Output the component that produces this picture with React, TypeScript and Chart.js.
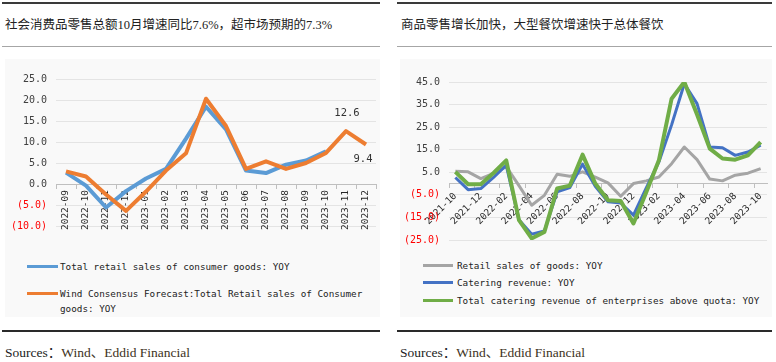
import React, { useEffect, useRef } from "react";
import { Chart, registerables } from "chart.js";

Chart.register(...registerables);

// ---------- Left chart data ----------
const leftCategories = [
  "2022-09", "2022-10", "2022-11", "2022-12", "2023-01", "2023-02", "2023-03", "2023-04",
  "2023-05", "2023-06", "2023-07", "2023-08", "2023-09", "2023-10", "2023-11", "2023-12",
];
const leftRetailYoy = [2.7, -0.4, -5.6, -1.7, 1.3, 3.6, 10.8, 18.4, 13.0, 3.2, 2.6, 4.6, 5.6, 7.8, null, null];
const leftConsensusYoy = [3.0, 1.8, -2.5, -6.4, -1.8, 3.2, 7.3, 20.3, 13.8, 3.6, 5.4, 3.6, 5.0, 7.4, 12.6, 9.4];
const leftSeriesNames = [
  "Total retail sales of consumer goods: YOY",
  "Wind Consensus Forecast:Total Retail sales of Consumer goods: YOY",
];
const leftYMin = -10;
const leftYMax = 25;
const leftYStep = 5;
const leftLabelIndexes = [14, 15];

// ---------- Right chart data ----------
const rightCategories = [
  "2021-10", "2021-11", "2021-12", "2022-01", "2022-02", "2022-03", "2022-04", "2022-05",
  "2022-06", "2022-07", "2022-08", "2022-09", "2022-10", "2022-11", "2022-12", "2023-01",
  "2023-02", "2023-03", "2023-04", "2023-05", "2023-06", "2023-07", "2023-08", "2023-09", "2023-10",
];
const rightGoodsYoy = [5.5, 5.2, 2.2, 4.5, 7.5, -0.9, -9.6, -5.2, 4.1, 3.2, 5.2, 2.9, 0.3, -5.6, 0.0, 1.2, 2.9, 8.8, 16.2, 10.6, 2.0, 1.2, 3.7, 4.6, 6.6];
const rightCateringYoy = [2.7, -2.7, -2.2, 2.7, 8.1, -16.0, -22.4, -21.0, -3.7, -1.8, 8.6, -1.2, -8.1, -8.6, -14.0, -2.0, 9.6, 26.0, 44.2, 35.4, 16.2, 15.9, 12.5, 14.0, 17.0];
const rightAboveQuotaYoy = [5.2, -0.3, -0.3, 4.7, 10.3, -16.2, -24.3, -21.4, -2.2, -0.9, 12.8, 0.0, -7.4, -7.7, -17.7, -4.0, 10.3, 37.6, 45.0, 30.6, 15.5, 11.1, 10.6, 12.5, 18.4];
const rightSeriesNames = [
  "Retail sales of goods: YOY",
  "Catering revenue: YOY",
  "Total catering revenue of enterprises above quota: YOY",
];
const rightYMin = -25;
const rightYMax = 45;
const rightYStep = 10;

// ---------- Styles ----------
const leftColors = ["#5B9BD5", "#ED7D31"];
const rightColors = ["#A5A5A5", "#4472C4", "#70AD47"];
const monoFont = "'DejaVu Sans Mono', monospace";
const serifFont = "'Liberation Serif', 'Noto Sans CJK SC', serif";

const fmtTick = (v: number) => (v < 0 ? `(${Math.abs(v).toFixed(1)})` : Number(v).toFixed(1));

function yAxis(min: number, max: number, step: number, width: number) {
  return {
    min,
    max,
    ticks: {
      stepSize: step,
      callback: (v: any) => fmtTick(Number(v)),
      color: (ctx: any) => (ctx.tick && ctx.tick.value < 0 ? "#FF0000" : "#404040"),
      font: { family: monoFont, size: 10 },
      padding: 9,
    },
    grid: { color: "#e4e4e4", drawTicks: false, lineWidth: 1 },
    border: { display: false },
    afterFit: (s: any) => {
      s.width = width;
    },
  };
}

const pointLabelPlugin = {
  id: "pointLabels",
  afterDatasetsDraw(chart: any) {
    const meta = chart.getDatasetMeta(1);
    const ds = chart.data.datasets[1];
    const ctx = chart.ctx;
    ctx.save();
    ctx.font = `10.5px ${monoFont}`;
    ctx.fillStyle = "#333333";
    ctx.textAlign = "center";
    ctx.textBaseline = "middle";
    leftLabelIndexes.forEach((idx, k) => {
      const el = meta.data[idx];
      if (!el) return;
      const dx = k === 0 ? 1 : -3;
      const dy = k === 0 ? -18 : 15;
      ctx.fillText(Number(ds.data[idx]).toFixed(1), el.x + dx, el.y + dy);
    });
    ctx.restore();
  },
};

function lineDs(label: string, data: any[], color: string, width: number, order: number) {
  return {
    label,
    data,
    borderColor: color,
    backgroundColor: color,
    borderWidth: width,
    pointRadius: 0,
    pointHoverRadius: 0,
    tension: 0,
    borderJoinStyle: "round" as const,
    fill: false,
    order,
  };
}

export default function App() {
  const leftRef = useRef<HTMLCanvasElement>(null);
  const rightRef = useRef<HTMLCanvasElement>(null);

  useEffect(() => {
    const left = new Chart(leftRef.current as HTMLCanvasElement, {
      type: "line",
      data: {
        labels: leftCategories,
        datasets: [
          lineDs(leftSeriesNames[0], leftRetailYoy, leftColors[0], 4, 2),
          lineDs(leftSeriesNames[1], leftConsensusYoy, leftColors[1], 4, 1),
        ],
      },
      options: {
        responsive: false,
        animation: false,
        layout: { padding: { top: 3, right: 9, bottom: 3, left: 0 } },
        plugins: { legend: { display: false }, tooltip: { enabled: false } },
        scales: {
          x: {
            type: "category",
            position: { y: 0 } as any,
            offset: true,
            grid: { drawOnChartArea: false, drawTicks: true, tickLength: 4, color: "#bfbfbf", offset: true },
            border: { display: true, color: "#bfbfbf" },
            ticks: {
              autoSkip: false,
              minRotation: 90,
              maxRotation: 90,
              padding: 2,
              color: "#262626",
              font: { family: monoFont, size: 9.5 },
            },
          },
          y: yAxis(leftYMin, leftYMax, leftYStep, 56) as any,
        },
      },
      plugins: [pointLabelPlugin],
    } as any);

    const right = new Chart(rightRef.current as HTMLCanvasElement, {
      type: "line",
      data: {
        labels: rightCategories,
        datasets: [
          lineDs(rightSeriesNames[0], rightGoodsYoy, rightColors[0], 3, 3),
          lineDs(rightSeriesNames[1], rightCateringYoy, rightColors[1], 3, 2),
          lineDs(rightSeriesNames[2], rightAboveQuotaYoy, rightColors[2], 4, 1),
        ],
      },
      options: {
        responsive: false,
        animation: false,
        layout: { padding: { top: 5, right: 9, bottom: 5, left: 0 } },
        plugins: { legend: { display: false }, tooltip: { enabled: false } },
        scales: {
          x: {
            type: "category",
            position: { y: 0 } as any,
            offset: true,
            grid: {
              drawOnChartArea: false,
              drawTicks: true,
              tickLength: 4,
              offset: true,
              color: (ctx: any) => (ctx.index % 2 === 0 ? "#bfbfbf" : "rgba(0,0,0,0)"),
            },
            border: { display: true, color: "#bfbfbf" },
            ticks: {
              autoSkip: false,
              minRotation: 45,
              maxRotation: 45,
              padding: 3,
              color: "#262626",
              font: { family: monoFont, size: 9.5 },
              callback: (_v: any, i: number) => (i % 2 === 0 ? rightCategories[i] : ""),
            },
          },
          y: yAxis(rightYMin, rightYMax, rightYStep, 59) as any,
        },
      },
    } as any);

    return () => {
      left.destroy();
      right.destroy();
    };
  }, []);

  const abs = (s: React.CSSProperties): React.CSSProperties => ({ position: "absolute", ...s });
  const legendText: React.CSSProperties = {
    fontFamily: monoFont,
    fontSize: 9.3,
    lineHeight: "15px",
    color: "#222",
    whiteSpace: "normal",
  };
  const titleStyle: React.CSSProperties = {
    fontFamily: serifFont,
    fontSize: 12.5,
    lineHeight: "14px",
    color: "#222",
    whiteSpace: "nowrap",
  };
  const sourceStyle: React.CSSProperties = {
    fontFamily: serifFont,
    fontSize: 13.5,
    lineHeight: "16px",
    color: "#222",
    whiteSpace: "nowrap",
  };

  const panel = (x0: number, x1: number) => (
    <>
      <div style={abs({ left: x0, top: 2, width: x1 - x0, height: 2, background: "#3a3a3a" })} />
      <div style={abs({ left: x0, top: 46, width: x1 - x0, height: 1, background: "#a6a6a6" })} />
      <div style={abs({ left: x0 + 3, top: 59, width: x1 - x0 - 3, height: 258, background: "#f9f9f9" })} />
      <div style={abs({ left: x0, top: 330, width: x1 - x0, height: 2, background: "#2a2a2a" })} />
    </>
  );

  return (
    <div
      style={{
        position: "fixed",
        left: 0,
        top: 0,
        width: 776,
        height: 362,
        background: "#ffffff",
        overflow: "hidden",
      }}
    >
      {panel(2, 380)}
      {panel(397, 772)}

      <div style={abs({ left: 5, top: 18, ...titleStyle })}>
        社会消费品零售总额10月增速同比7.6%，超市场预期的7.3%
      </div>
      <div style={abs({ left: 401, top: 18, ...titleStyle })}>
        商品零售增长加快，大型餐饮增速快于总体餐饮
      </div>

      <canvas
        ref={leftRef}
        width={385}
        height={177}
        style={abs({ left: 0, top: 64, width: 385, height: 177 })}
      />
      <canvas
        ref={rightRef}
        width={386}
        height={188}
        style={abs({ left: 390, top: 67, width: 386, height: 188 })}
      />

      {/* Left legend */}
      <div style={abs({ left: 27, top: 264.5, width: 31, height: 3, background: leftColors[0] })} />
      <div style={abs({ left: 60, top: 258.5, width: 320, ...legendText })}>{leftSeriesNames[0]}</div>
      <div style={abs({ left: 27, top: 291.5, width: 31, height: 3, background: leftColors[1] })} />
      <div style={abs({ left: 60, top: 285.5, width: 320, ...legendText })}>{leftSeriesNames[1]}</div>

      {/* Right legend */}
      {rightSeriesNames.map((name, i) => (
        <React.Fragment key={name}>
          <div
            style={abs({ left: 423, top: 263.5 + i * 17.5, width: 30, height: 3, background: rightColors[i] })}
          />
          <div style={abs({ left: 457, top: 257.5 + i * 17.5, width: 315, ...legendText })}>{name}</div>
        </React.Fragment>
      ))}

      <div style={abs({ left: 5, top: 345, ...sourceStyle })}>
        Sources：<span style={{ color: "#3d3222" }}>Wind、Eddid Financial</span>
      </div>
      <div style={abs({ left: 400, top: 345, ...sourceStyle })}>
        Sources：<span style={{ color: "#3d3222" }}>Wind、Eddid Financial</span>
      </div>
    </div>
  );
}
